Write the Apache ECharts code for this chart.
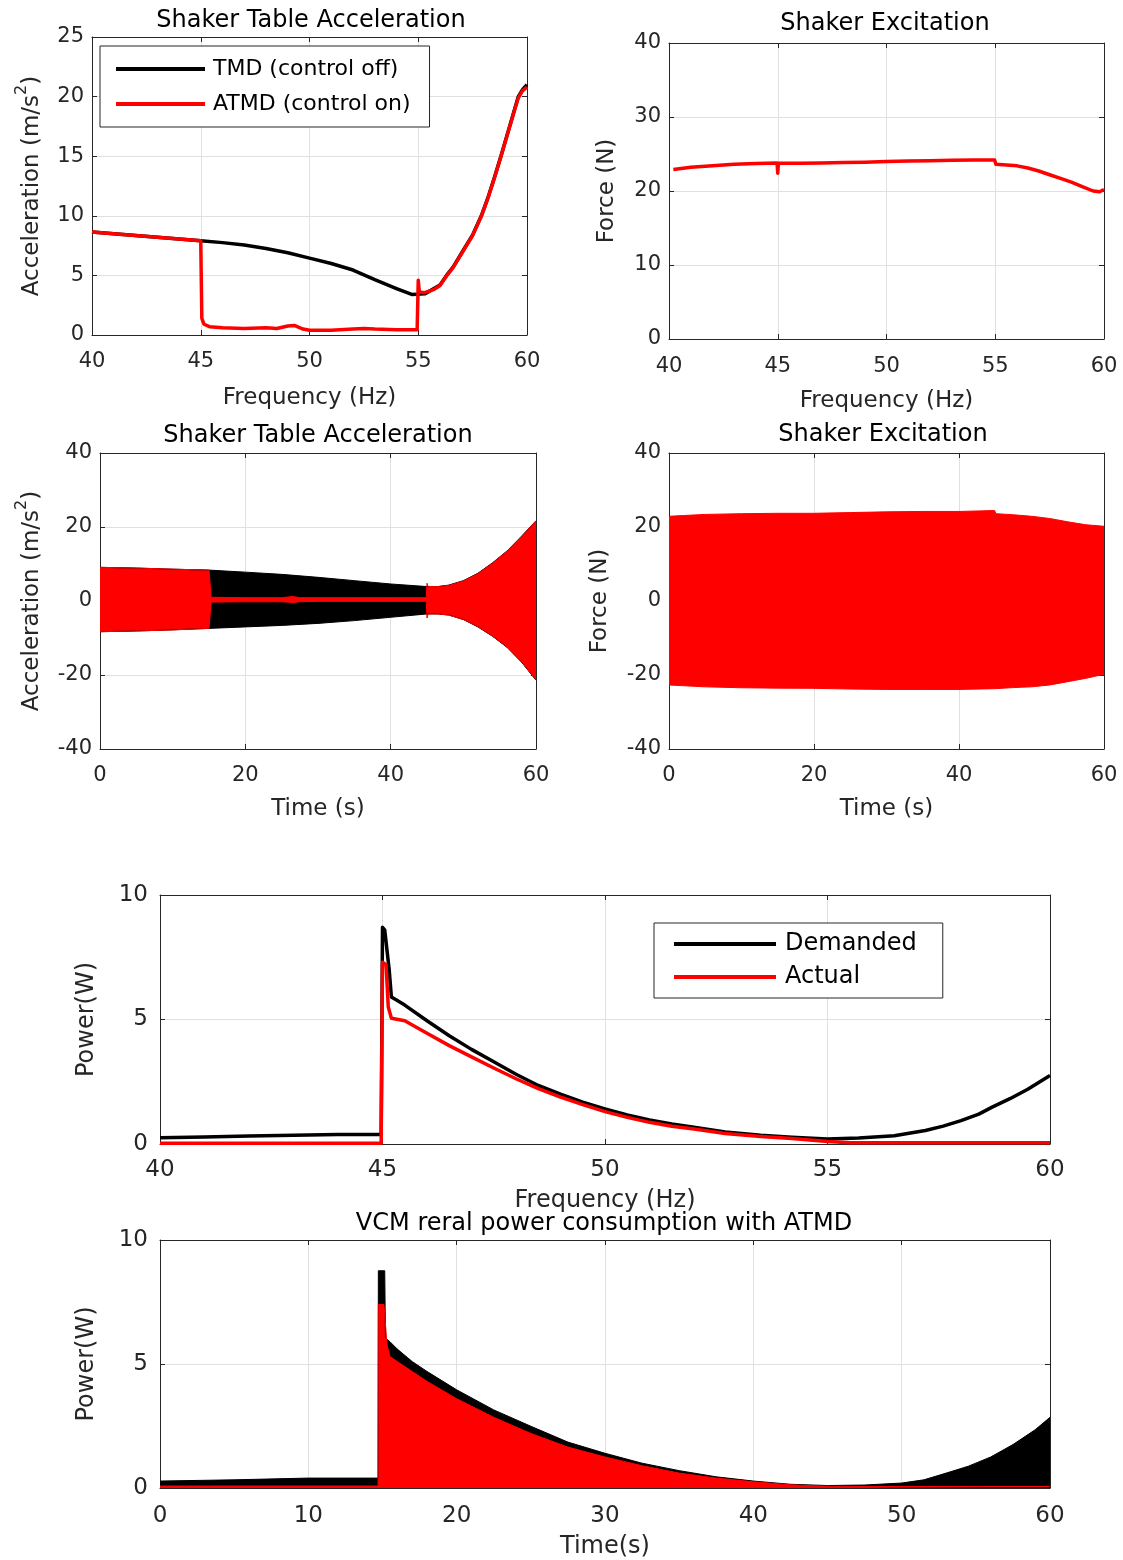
<!DOCTYPE html>
<html>
<head>
<meta charset="utf-8">
<script src="https://cdn.jsdelivr.net/npm/echarts@6.0.0/dist/echarts.min.js"></script>
<style>
html, body { margin: 0; padding: 0; background: #fff; }
#main { width: 1123px; height: 1560px; }
</style>
</head>
<body>
<div id="main"></div>
<script>
// ---- shaker table acceleration vs frequency (Hz, m/s^2)
var accFreqTmd = [40, 41, 42, 43, 44, 45, 46, 47, 48, 49, 50, 51, 52, 53, 54, 54.7, 55.3, 56, 56.3, 56.6, 57, 57.5, 57.9, 58.2, 58.5, 58.8, 59.2, 59.6, 59.8, 60];
var accTmd = [8.65, 8.5, 8.35, 8.2, 8.05, 7.9, 7.75, 7.55, 7.25, 6.9, 6.45, 6.0, 5.45, 4.65, 3.9, 3.4, 3.45, 4.2, 5.0, 5.7, 6.9, 8.4, 10.0, 11.5, 13.2, 15.0, 17.5, 20.0, 20.6, 21.0];
var accFreqAtmd = [40, 41, 42, 43, 44, 45, 45.05, 45.15, 45.4, 46, 47, 48, 48.5, 49, 49.3, 49.7, 50, 51, 52, 52.5, 53, 54, 54.95, 55.0, 55.05, 55.3, 55.7, 56, 56.3, 56.6, 57, 57.5, 57.9, 58.2, 58.5, 58.8, 59.2, 59.6, 59.8, 60];
var accAtmd = [8.65, 8.5, 8.35, 8.2, 8.05, 7.9, 1.4, 0.9, 0.7, 0.6, 0.55, 0.6, 0.55, 0.75, 0.8, 0.5, 0.4, 0.4, 0.5, 0.55, 0.5, 0.45, 0.45, 4.6, 3.6, 3.55, 3.8, 4.15, 4.95, 5.65, 6.85, 8.35, 9.95, 11.45, 13.15, 14.95, 17.45, 19.9, 20.5, 20.8];

// ---- shaker force vs frequency (N)
var forceFreq = [40.2, 41, 42, 43, 44, 44.97, 45.0, 45.03, 46, 47, 48, 49, 50, 51, 52, 53, 54, 54.97, 55.03, 56, 56.5, 57, 57.5, 58, 58.5, 59, 59.5, 59.8, 60];
var forceAmp = [22.9, 23.2, 23.4, 23.6, 23.7, 23.8, 22.4, 23.75, 23.75, 23.8, 23.85, 23.9, 24.0, 24.05, 24.1, 24.15, 24.2, 24.2, 23.6, 23.4, 23.1, 22.7, 22.2, 21.7, 21.2, 20.6, 20.0, 19.9, 20.2];

// ---- acceleration vs time, envelopes of the oscillation (s, m/s^2)
var accTime = [0, 5, 10, 15, 20, 25, 30, 35, 40, 45, 46.5, 48, 50, 52, 54, 56, 58, 60];
var accTmdUpper = [9.1, 8.9, 8.6, 8.35, 7.8, 7.2, 6.4, 5.5, 4.6, 3.9, 3.9, 4.3, 5.5, 7.5, 10.3, 13.5, 17.5, 21.7];
var accTmdLower = [-8.3, -8.1, -7.8, -7.4, -7.0, -6.6, -6.05, -5.3, -4.4, -3.5, -3.5, -3.8, -5.0, -7.0, -9.5, -12.5, -16.5, -21.4];
var accTimeAtmd = [0, 5, 10, 15, 15.3, 20, 25, 26.5, 27.5, 30, 35, 40, 44.9, 45, 45.15, 46.5, 48, 50, 52, 54, 56, 58, 60];
var accAtmdUpper = [9.1, 8.9, 8.6, 8.35, 1.0, 0.9, 0.9, 1.2, 0.9, 0.9, 0.9, 0.9, 0.9, 4.8, 3.9, 3.9, 4.2, 5.4, 7.4, 10.2, 13.4, 17.4, 21.6];
var accAtmdLower = [-8.3, -8.1, -7.8, -7.4, -0.3, -0.2, -0.2, -0.4, -0.2, -0.1, -0.1, -0.1, -0.1, -4.6, -3.5, -3.5, -3.8, -5.0, -6.9, -9.4, -12.4, -16.4, -21.3];

// ---- force vs time, envelopes (s, N)
var forceTime = [0, 2, 5, 10, 15, 20, 25, 30, 35, 40, 44.9, 45.1, 47.5, 50, 52.5, 55, 57.5, 60];
var forceUpper = [22.9, 23.1, 23.4, 23.6, 23.7, 23.7, 23.9, 24.1, 24.2, 24.2, 24.45, 23.6, 23.3, 22.9, 22.3, 21.4, 20.6, 20.2];
var forceLower = [-22.7, -22.9, -23.2, -23.45, -23.55, -23.6, -23.8, -23.9, -23.9, -23.9, -23.7, -23.6, -23.4, -23.2, -22.7, -21.8, -20.9, -19.8];

// ---- VCM power vs frequency (W)
var powFreqDem = [40, 41, 42, 43, 44, 44.97, 45.0, 45.05, 45.15, 45.2, 45.5, 46, 46.5, 47, 47.5, 48, 48.5, 49, 49.5, 50, 50.5, 51, 51.5, 52, 52.7, 53.5, 54.2, 55, 55.7, 56.5, 57.2, 57.6, 58, 58.4, 58.7, 59.1, 59.5, 60];
var powDem = [0.25, 0.28, 0.32, 0.35, 0.38, 0.38, 8.7, 8.6, 7.0, 5.9, 5.58, 4.95, 4.35, 3.8, 3.3, 2.8, 2.35, 2.0, 1.68, 1.41, 1.17, 0.97, 0.8, 0.67, 0.48, 0.35, 0.27, 0.2, 0.24, 0.33, 0.54, 0.72, 0.94, 1.2, 1.48, 1.82, 2.2, 2.75];
var powFreqAct = [40, 44.97, 45.0, 45.08, 45.13, 45.2, 45.5, 46, 46.5, 47, 47.5, 48, 48.5, 49, 49.5, 50, 50.5, 51, 51.5, 52, 52.7, 53.5, 54.2, 55, 55.5, 60];
var powAct = [0.03, 0.03, 7.3, 7.2, 5.5, 5.05, 4.95, 4.45, 3.95, 3.5, 3.05, 2.62, 2.22, 1.88, 1.58, 1.3, 1.07, 0.87, 0.71, 0.6, 0.42, 0.3, 0.22, 0.1, 0.05, 0.05];

// ---- VCM power vs time, envelopes (s, W)
var powTime = [0, 5, 10, 14.7, 14.72, 15.15, 15.2, 15.5, 16, 17, 18, 20, 22.5, 25, 27.5, 30, 32.5, 35, 37.5, 40, 42.5, 45, 47.5, 50, 51.5, 53, 54.5, 56, 57.5, 59, 60];
var powDemUpper = [0.28, 0.33, 0.4, 0.4, 8.76, 8.76, 6.05, 5.9, 5.6, 5.1, 4.7, 3.96, 3.15, 2.49, 1.85, 1.4, 1.0, 0.7, 0.45, 0.28, 0.15, 0.1, 0.12, 0.2, 0.33, 0.6, 0.88, 1.25, 1.75, 2.35, 2.85];
var powTimeAct = [0, 14.7, 14.72, 15.1, 15.3, 15.5, 16, 17, 18, 20, 22.5, 25, 27.5, 30, 32.5, 35, 37.5, 40, 42.5, 45, 47.5, 60];
var powActUpper = [0.08, 0.08, 7.4, 7.4, 5.8, 5.3, 5.1, 4.7, 4.3, 3.6, 2.85, 2.2, 1.65, 1.25, 0.9, 0.6, 0.4, 0.25, 0.13, 0.07, 0.06, 0.06];

var FONT = 'DejaVu Sans';
var AXC = '#262626';
var GRIDC = '#e0e0e0';
var RED = '#ff0000';
var BLACK = '#000000';

function pairs(xs, ys) {
    var out = [];
    for (var i = 0; i < xs.length; i++) out.push([xs[i], ys[i]]);
    return out;
}

var accName = '{a|Acceleration (m/s}{s|2}{a|)}';

// one entry per subplot: box [left, top, width, height], x range, y range, names, gaps
var panels = [
    {box: [92, 37, 435, 298], x: [40, 60, 5], y: [0, 25, 5], xname: 'Frequency (Hz)', yname: accName, xgap: 52, ygap: 48, xm: 16, ym: 8, tick: 21, label: 23},
    {box: [669, 43, 435, 296], x: [40, 60, 5], y: [0, 40, 10], xname: 'Frequency (Hz)', yname: 'Force (N)', xgap: 51, ygap: 50, xm: 17, ym: 8, tick: 21, label: 23},
    {box: [100, 453, 436, 296], x: [0, 60, 20], y: [-40, 40, 20], xname: 'Time (s)', yname: accName, xgap: 49, ygap: 56, xm: 16, ym: 8, tick: 21, label: 23},
    {box: [669, 453, 435, 296], x: [0, 60, 20], y: [-40, 40, 20], xname: 'Time (s)', yname: 'Force (N)', xgap: 49, ygap: 57, xm: 16, ym: 8, tick: 21, label: 23},
    {box: [160, 895, 890, 249], x: [40, 60, 5], y: [0, 10, 5], xname: 'Frequency (Hz)', yname: 'Power(W)', xgap: 45, ygap: 61, xm: 15, ym: 12, tick: 23, label: 24},
    {box: [160, 1240, 890, 248], x: [0, 60, 10], y: [0, 10, 5], xname: 'Time(s)', yname: 'Power(W)', xgap: 47, ygap: 61, xm: 17, ym: 12, tick: 23, label: 24}
];

var grids = [], xAxes = [], yAxes = [];
panels.forEach(function (p, i) {
    grids.push({left: p.box[0], top: p.box[1], width: p.box[2], height: p.box[3], outerBoundsMode: 'none'});
    var nameStyle = {
        fontFamily: FONT, fontSize: p.label, color: AXC,
        rich: {
            a: {fontFamily: FONT, fontSize: p.label, color: AXC, lineHeight: 30, verticalAlign: 'bottom'},
            s: {fontFamily: FONT, fontSize: 16, color: AXC, verticalAlign: 'top', lineHeight: 30}
        }
    };
    var line = {onZero: false, lineStyle: {color: AXC, width: 1}};
    var tickIn = {inside: true, length: 5, lineStyle: {color: AXC}};
    xAxes.push({
        type: 'value', gridIndex: i, position: 'bottom', min: p.x[0], max: p.x[1], interval: p.x[2],
        name: p.xname, nameLocation: 'middle', nameGap: p.xgap, nameMoveOverlap: false,
        nameTextStyle: {fontFamily: FONT, fontSize: p.label, color: AXC},
        axisLine: line, axisTick: tickIn,
        axisLabel: {fontFamily: FONT, fontSize: p.tick, color: AXC, margin: p.xm},
        splitLine: {show: true, lineStyle: {color: GRIDC, width: 1}}
    });
    xAxes.push({
        type: 'value', gridIndex: i, position: 'top', min: p.x[0], max: p.x[1], interval: p.x[2],
        axisLine: line, axisTick: tickIn, axisLabel: {show: false}, splitLine: {show: false}
    });
    yAxes.push({
        type: 'value', gridIndex: i, position: 'left', min: p.y[0], max: p.y[1], interval: p.y[2],
        name: p.yname, nameLocation: 'middle', nameGap: p.ygap, nameMoveOverlap: false,
        nameTextStyle: nameStyle,
        axisLine: line, axisTick: tickIn,
        axisLabel: {fontFamily: FONT, fontSize: p.tick, color: AXC, margin: p.ym},
        splitLine: {show: true, lineStyle: {color: GRIDC, width: 1}}
    });
    yAxes.push({
        type: 'value', gridIndex: i, position: 'right', min: p.y[0], max: p.y[1], interval: p.y[2],
        axisLine: line, axisTick: tickIn, axisLabel: {show: false}, splitLine: {show: false}
    });
});

function trace(name, gi, xs, ys, color, width) {
    return {
        name: name, type: 'line', xAxisIndex: 2 * gi, yAxisIndex: 2 * gi,
        data: pairs(xs, ys), showSymbol: false, symbol: 'none',
        lineStyle: {color: color, width: width, join: 'round'}, itemStyle: {color: color}
    };
}

function band(name, gi, xs, ys, color) {
    var s = trace(name, gi, xs, ys, color, 1);
    s.areaStyle = {color: color, opacity: 1, origin: 0};
    return s;
}

function titleAt(text, cx, top, size) {
    return {
        text: text, left: cx, top: top, textAlign: 'center', padding: 0,
        textStyle: {fontFamily: FONT, fontSize: size, fontWeight: 'normal', color: BLACK}
    };
}

var chart = echarts.init(document.getElementById('main'));
chart.setOption({
    animation: false,
    backgroundColor: '#ffffff',
    title: [
        titleAt('Shaker Table Acceleration', 311, 9, 24),
        titleAt('Shaker Excitation', 885, 12, 24),
        titleAt('Shaker Table Acceleration', 318, 424, 24),
        titleAt('Shaker Excitation', 883, 423, 24),
        titleAt('VCM reral power consumption with ATMD', 604, 1212, 24)
    ],
    legend: [
        {
            data: ['TMD (control off)', 'ATMD (control on)'],
            orient: 'vertical', left: 100, top: 46, padding: [12, 19, 12, 16], itemGap: 13,
            itemWidth: 89, itemHeight: 4, icon: 'rect', selectedMode: false,
            borderColor: AXC, borderWidth: 1, borderRadius: 0, backgroundColor: '#ffffff',
            textStyle: {fontFamily: FONT, fontSize: 22, color: BLACK, padding: [0, 0, 0, 3]}
        },
        {
            data: ['Demanded', 'Actual'],
            orient: 'vertical', left: 654, top: 923, padding: [9, 26, 9, 20], itemGap: 9,
            itemWidth: 102, itemHeight: 4, icon: 'rect', selectedMode: false,
            borderColor: AXC, borderWidth: 1, borderRadius: 0, backgroundColor: '#ffffff',
            textStyle: {fontFamily: FONT, fontSize: 24, color: BLACK, padding: [0, 0, 0, 4]}
        }
    ],
    grid: grids,
    xAxis: xAxes,
    yAxis: yAxes,
    series: [
        trace('TMD (control off)', 0, accFreqTmd, accTmd, BLACK, 3.5),
        trace('ATMD (control on)', 0, accFreqAtmd, accAtmd, RED, 3.5),

        trace('Force', 1, forceFreq, forceAmp, RED, 3.5),

        band('TMD upper', 2, accTime, accTmdUpper, BLACK),
        band('TMD lower', 2, accTime, accTmdLower, BLACK),
        band('ATMD upper', 2, accTimeAtmd, accAtmdUpper, RED),
        band('ATMD lower', 2, accTimeAtmd, accAtmdLower, RED),

        band('Force upper', 3, forceTime, forceUpper, RED),
        band('Force lower', 3, forceTime, forceLower, RED),

        trace('Demanded', 4, powFreqDem, powDem, BLACK, 3.5),
        trace('Actual', 4, powFreqAct, powAct, RED, 3.5),

        band('Demanded power', 5, powTime, powDemUpper, BLACK),
        band('Actual power', 5, powTimeAct, powActUpper, RED)
    ]
});
</script>
</body>
</html>
